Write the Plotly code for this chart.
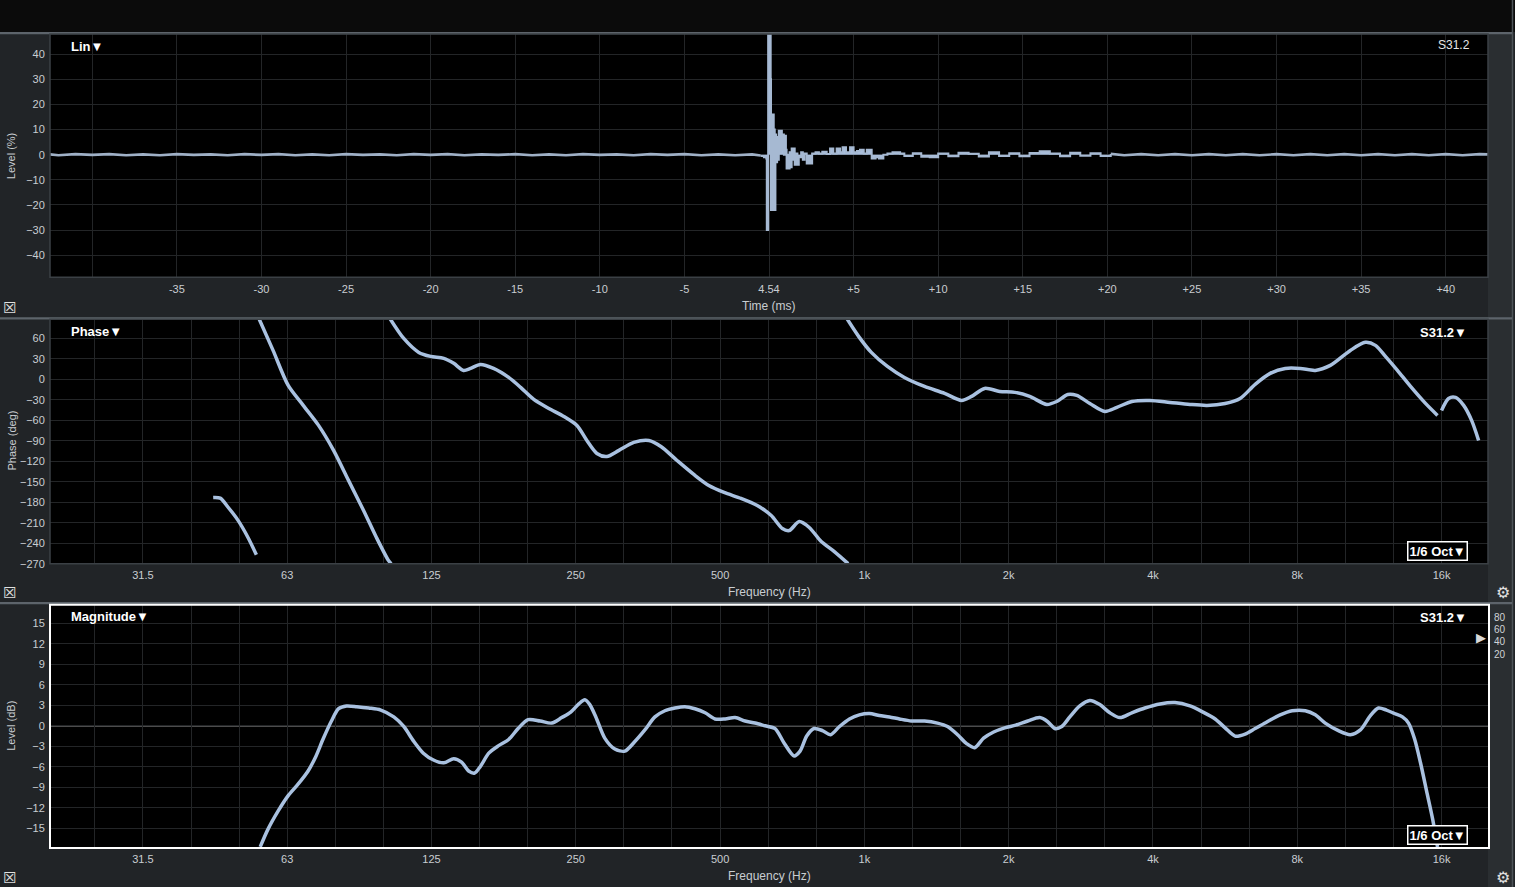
import plotly.graph_objects as go

W, H = 1515, 887
HV = 880.0  # effective vertical pixel scale observed in the renderer

def px(x):
    return x / W

def py(y):
    return 1 - y / HV

# ---------------- data ----------------
# impulse response (time offset in ms relative to 4.54 ms, level in %)
time_pre = [-42.5, -42, -41, -40, -39, -38, -37, -36, -35, -34, -33, -32, -31, -30, -29, -28, -27, -26, -25,
            -24, -23, -22, -21, -20, -19, -18, -17, -16, -15, -14, -13, -12, -11, -10, -9, -8, -7, -6, -5,
            -4, -3, -2, -1, -0.5]
level_pre = [0.1, -0.2, 0.2, -0.1, 0.2, -0.2, 0.1, -0.2, 0.2, -0.1, 0.1, -0.2, 0.2, -0.1, 0.2, -0.2, 0.1, -0.2,
             0.2, -0.1, 0.1, -0.2, 0.2, -0.1, 0.2, -0.2, 0.1, -0.1, 0.2, -0.2, 0.1, -0.2, 0.2, -0.1, 0.1, -0.2,
             0.2, -0.1, 0.2, -0.2, 0.1, -0.2, 0.1, -0.3]
time_imp = [-0.5, -0.3, -0.16, -0.13, -0.07, -0.05, 0.06, 0.10, 0.12, 0.16, 0.20, 0.24, 0.28, 0.32, 0.34, 0.38,
            0.42, 0.48, 0.52, 0.58, 0.64, 0.70, 0.76, 0.82, 0.88, 0.94, 1.00, 1.04, 1.10, 1.16, 1.22, 1.28,
            1.34, 1.40, 1.44, 1.52, 1.60, 1.68, 1.76, 1.90, 2.00, 2.10, 2.23, 2.33, 2.43, 2.55, 2.75, 2.95,
            3.15, 3.41, 3.61, 3.80, 4.00, 4.20, 4.35, 4.55, 4.79, 5.00, 5.20, 5.38, 5.60, 5.78, 6.07, 6.30,
            6.50, 6.76, 7.00, 7.30, 7.75, 8.0, 8.5, 9.0, 9.5, 10.0, 10.6, 11.2, 11.8, 12.4, 13.0, 13.6, 14.2,
            14.8, 15.4, 16.0, 16.6, 17.2, 17.8, 18.4, 19.0, 19.6, 20.2]
level_imp = [-0.5, -1.0, -1.5, -30, -30, 60, 60, 30, -22, 16, -22, 16, -22, 10, -22, 8,
             -3, 7, -2, 9.5, 1, 9.5, 2, 8, 0, 7.5, 2, -5.5, 0, -5.5, 1, -5,
             2.5, -2, 2.5, -4, 0.5, -4, -1, 1, -2, 0.5, -3.5, -1, -3.5, 0.5, 1, 0.5,
             1.2, 0.3, 2.5, 0.5, 2.5, 1, 3, 1, 3, 1, 1.5, 2, 0.5, 2, -1.5, -1,
             -1.5, 0, 0.5, 1, 0.5, -0.5, 0.6, -0.8, -1.0, 0.5, -0.6, 0.8, 0.4, -0.7, 1.0, -0.5, 0.6,
             -0.6, 0.7, 1.4, 0.5, -0.6, 0.8, -0.4, 0.6, -0.5, 0.3]
time_post = [20.2, 21, 22, 23, 24, 25, 26, 27, 28, 29, 30,
             31, 32, 33, 34, 35, 36, 37, 38, 39, 40, 41, 42, 42.5]
level_post = [0.3, -0.2, 0.2, -0.2, 0.2, -0.2, 0.2, -0.2, 0.2, -0.2, 0.2,
              -0.2, 0.2, -0.2, 0.2, -0.2, 0.2, -0.2, 0.2, -0.2, 0.2, -0.2, 0.2, 0.1]

# phase response (Hz, degrees, wrapped; None = break)
phase_freq = [43.8, 45.3, 47.0, 49.4, 51.8, 53.9, None,
              54.5, 58.4, 62.8, 67.5, 72.6, 78.1, 83.9, 90.2, 96.0, 101.6, 103.0, None,
              102.2, 109.4, 117.6, 124.5, 132.6, 139.1, 145.8, 150.8, 158.2, 168.4, 181.1, 191.8, 204.3,
              219.6, 236.1, 251.4, 263.7, 276.7, 290.2, 307.6, 330.4, 355.1, 376.3, 406.6, 440.7, 473.7,
              509.7, 553.0, 597.7, 639.3, 674.2, 696.9, 731.4, 767.4, 812.8, 865.7, 925.0, None,
              918.0, 976, 1034, 1117, 1212, 1335, 1470, 1595, 1674, 1782, 1915, 2059, 2213, 2402, 2520,
              2657, 2774, 2954, 3175, 3364, 3615, 3942, 4341, 4779, 5187, 5657, 6080, 6535, 7025, 7551,
              8117, 8724, 9378, 10324, 11097, 11647, 12220, 12944, 13785, 14813, 15693, None,
              16000, 16549, 17117, 17791, 18486, 19120]
phase_deg = [-173, -174, -187, -207, -232, -257, None,
             90, 42.5, -8.8, -38, -67, -104, -148, -192, -232, -265, -270, None,
             90, 60, 39.6, 33.7, 30.8, 23.5, 13.2, 16.1, 22, 16.1, 2.9, -11.7, -29.3,
             -42.5, -54.3, -67.5, -89.5, -108.5, -113, -104, -92.4, -89.5, -98.3, -118.8, -139.3, -155.5,
             -165.7, -174.5, -184.8, -199.5, -218.5, -221.5, -208.3, -217, -237.6, -252.3, -270, None,
             90, 61.6, 39.6, 19, 2.9, -10.3, -20.5, -30.8, -24.9, -13.2, -17.6, -19, -24.9, -36.7, -32.3,
             -22, -23.5, -35.2, -46.9, -41, -32.3, -30.8, -33.7, -36.7, -38.1, -35.2, -27.9, -7.3, 8.8, 16.1,
             16.1, 13.2, 20.5, 42.5, 54.3, 49.9, 33.7, 13.2, -10.3, -35.2, -52.8, None,
             -45.5, -27.9, -26.4, -38.1, -60.1, -89.5]

# magnitude response (Hz, dB)
mag_freq = [54.9, 57.0, 59.9, 62.8, 65.9, 69.1, 71.8, 74.3, 77.3, 80.0, 83.1, 87.3, 92.5, 98.0, 104.3, 109.4,
            114.6, 120.2, 126.2, 132.6, 139.1, 144.4, 149.4, 153.8, 158.2, 164.6, 172.6, 181.1, 189.5, 198.8,
            210.7, 222.7, 233.7, 244.0, 253.7, 261.1, 267.4, 275.3, 287.3, 301.6, 316.4, 332.0, 348.4, 365.6,
            383.5, 402.5, 422.2, 442.9, 465.3, 488.0, 512.3, 537.4, 563.9, 591.6, 620.9, 651.3, 679.9, 713.5,
            734.3, 758.1, 784.9, 817.6, 849.9, 887.4, 930.9, 976, 1024.5, 1074.7, 1128, 1183.5, 1253.5, 1335,
            1421, 1491, 1565, 1634, 1698, 1773, 1861, 1962, 2069, 2192, 2322, 2413, 2496, 2581, 2683, 2815,
            2954, 3099, 3252, 3413, 3615, 3848, 4138, 4447, 4779, 5088, 5393, 5657, 5935, 6228, 6535, 6925,
            7371, 7807, 8316, 8724, 9151, 9748, 10324, 10834, 11369, 11815, 12278, 12763, 13261, 13652,
            14052, 14461, 14888, 15327, 15693]
mag_db = [-17.7, -15.1, -12.4, -10.2, -8.5, -6.6, -4.4, -1.9, 0.7, 2.5, 2.9, 2.8, 2.6, 2.3, 1.3, -0.1,
          -2.2, -4.0, -5.0, -5.4, -4.8, -5.3, -6.6, -6.9, -5.9, -4.0, -2.9, -2.0, -0.4, 0.9,
          0.7, 0.4, 1.2, 2.0, 3.2, 3.8, 3.1, 1.3, -1.8, -3.4, -3.7, -2.3, -0.6, 1.3,
          2.2, 2.6, 2.8, 2.5, 1.9, 1.0, 1.0, 1.2, 0.7, 0.4, 0.0, -0.4, -2.5, -4.4,
          -3.7, -1.5, -0.4, -0.7, -1.3, -0.1, 1.0, 1.6, 1.8, 1.5, 1.3, 1.0, 0.7, 0.7,
          0.4, -0.1, -1.3, -2.6, -3.2, -1.8, -0.9, -0.3, 0.1, 0.7, 1.2, 0.6, -0.4, -0.1, 1.3, 2.9,
          3.7, 3.1, 1.9, 1.2, 1.9, 2.6, 3.2, 3.4, 2.9, 2.0, 1.0, -0.3, -1.5, -1.2, -0.4, 0.6,
          1.6, 2.2, 2.2, 1.6, 0.4, -0.7, -1.3, -0.6, 1.5, 2.6, 2.3, 1.8, 1.3, 0.4,
          -1.9, -5.4, -9.5, -13.6, -17.7]

time_ticks = [-40, -35, -30, -25, -20, -15, -10, -5, 0, 5, 10, 15, 20, 25, 30, 35, 40]
time_labels = ['', '-35', '-30', '-25', '-20', '-15', '-10', '-5', '4.54', '+5', '+10', '+15', '+20', '+25',
               '+30', '+35', '+40']
level_ticks = [-40, -30, -20, -10, 0, 10, 20, 30, 40]
phase_ticks = [-270, -240, -210, -180, -150, -120, -90, -60, -30, 0, 30, 60]
mag_ticks = [-18, -15, -12, -9, -6, -3, 0, 3, 6, 9, 12, 15]
oct_labels = {-15: '31.5', -12: '63', -9: '125', -6: '250', -3: '500', 0: '1k', 3: '2k', 6: '4k', 9: '8k',
              12: '16k'}

freq_tickvals = [1000 * 2 ** (k / 3) for k in range(-16, 13)]
freq_ticktext = [oct_labels.get(k, '') for k in range(-16, 13)]

# ---------------- figure ----------------
TRACE = '#a9c1e0'
GRID = '#232527'
TICKC = '#c9cdd1'
FONT = 'Liberation Sans, Arial, sans-serif'

fig = go.Figure()
fig.add_trace(go.Scatter(x=time_pre, y=level_pre, mode='lines', line=dict(color='#9fb0c6', width=2.6),
                         xaxis='x', yaxis='y', hoverinfo='skip'))
fig.add_trace(go.Scatter(x=time_post, y=level_post, mode='lines', line=dict(color='#9fb0c6', width=2.6),
                         xaxis='x', yaxis='y', hoverinfo='skip'))
fig.add_trace(go.Scatter(x=time_imp, y=level_imp, mode='lines',
                         line=dict(color='#a6b9d2', width=2.0, shape='hv'), fill='tozeroy',
                         fillcolor='#a9bedb', xaxis='x', yaxis='y', hoverinfo='skip'))
fig.add_trace(go.Scatter(x=phase_freq, y=phase_deg, mode='lines',
                         line=dict(color=TRACE, width=3.5, shape='spline', smoothing=0.8),
                         connectgaps=False, xaxis='x2', yaxis='y2'))
fig.add_trace(go.Scatter(x=mag_freq, y=mag_db, mode='lines',
                         line=dict(color=TRACE, width=3.5, shape='spline', smoothing=0.8),
                         xaxis='x3', yaxis='y3'))

xdom = [px(50), px(1488)]
common_x = dict(showgrid=True, gridcolor=GRID, gridwidth=1, zeroline=False, showline=False,
                tickfont=dict(family=FONT, size=11, color=TICKC), ticks='outside', ticklen=1,
                tickcolor='rgba(0,0,0,0)', fixedrange=True)
common_y = dict(showgrid=True, gridcolor=GRID, gridwidth=1, zeroline=False, showline=False,
                tickfont=dict(family=FONT, size=11, color=TICKC), ticks='outside', ticklen=2,
                tickcolor='rgba(0,0,0,0)', fixedrange=True)

fig.update_layout(
    width=W, height=H, autosize=False, margin=dict(l=0, r=0, t=0, b=0),
    paper_bgcolor='#212427', plot_bgcolor='#000000', showlegend=False,
    font=dict(family=FONT, color=TICKC),
    xaxis=dict(domain=xdom, anchor='y', range=[-42.5, 42.5], tickmode='array', tickvals=time_ticks,
               ticktext=time_labels, **common_x),
    yaxis=dict(domain=[py(277), py(34)], anchor='x', range=[-48.8, 48], tickmode='array',
               tickvals=level_ticks, **common_y),
    xaxis2=dict(domain=xdom, anchor='y2', type='log', range=[1.30103, 4.30103], tickmode='array',
                tickvals=freq_tickvals, ticktext=freq_ticktext, **common_x),
    yaxis2=dict(domain=[py(563), py(319)], anchor='x2', range=[-270, 88], tickmode='array',
                tickvals=phase_ticks, **common_y),
    xaxis3=dict(domain=xdom, anchor='y3', type='log', range=[1.30103, 4.30103], tickmode='array',
                tickvals=freq_tickvals, ticktext=freq_ticktext, **common_x),
    yaxis3=dict(domain=[py(847), py(604)], anchor='x3', range=[-17.85, 17.7], tickmode='array',
                tickvals=mag_ticks, **common_y),
)

shapes = []
# top dark strip
shapes.append(dict(type='rect', xref='paper', yref='paper', x0=0, x1=1, y0=py(32), y1=1,
                   fillcolor='#0b0b0b', line=dict(width=0), layer='below'))
# right strip
shapes.append(dict(type='rect', xref='paper', yref='paper', x0=px(1488), x1=px(1512), y0=py(887), y1=py(34),
                   fillcolor='#2a2e31', line=dict(width=0), layer='below'))
shapes.append(dict(type='line', xref='paper', yref='paper', x0=px(1512.5), x1=px(1512.5), y0=py(887), y1=1,
                   line=dict(color='#4d5358', width=1.5)))
# separators
for ysep in (33, 318, 602.5):
    shapes.append(dict(type='line', xref='paper', yref='paper', x0=0, x1=px(1512), y0=py(ysep), y1=py(ysep),
                       line=dict(color='#5d646b', width=2.2)))
# plot frames
shapes.append(dict(type='rect', xref='paper', yref='paper', x0=px(50), x1=px(1488), y0=py(277), y1=py(34),
                   line=dict(color='#3b4045', width=1.5)))
shapes.append(dict(type='rect', xref='paper', yref='paper', x0=px(50), x1=px(1488), y0=py(563), y1=py(319),
                   line=dict(color='#3b4045', width=1.5)))
shapes.append(dict(type='rect', xref='paper', yref='paper', x0=px(50), x1=px(1489), y0=py(847), y1=py(604),
                   line=dict(color='#ffffff', width=2)))
# 0 dB reference line
shapes.append(dict(type='line', xref='x3 domain', yref='y3', x0=0, x1=1, y0=0, y1=0,
                   line=dict(color='#ffffff', width=1), layer='below'))
fig.update_layout(shapes=shapes)

ann = []

def add_text(x, y, text, size=11, color=TICKC, bold=False, xanchor='center', angle=0, **kw):
    t = '<b>%s</b>' % text if bold else text
    ann.append(dict(x=px(x), y=py(y), xref='paper', yref='paper', text=t, showarrow=False,
                    font=dict(family=FONT, size=size, color=color), xanchor=xanchor, yanchor='middle',
                    textangle=angle, **kw))

add_text(69, 46, 'Lin▼', size=13, color='#ffffff', bold=True, xanchor='left')
add_text(1472, 45, 'S31.2', size=12, color='#e6e6e6', xanchor='right')
add_text(69, 331, 'Phase▼', size=13, color='#ffffff', bold=True, xanchor='left')
add_text(1469, 332, 'S31.2▼', size=13, color='#ffffff', bold=True, xanchor='right')
add_text(69, 616, 'Magnitude▼', size=13, color='#ffffff', bold=True, xanchor='left')
add_text(1469, 617, 'S31.2▼', size=13, color='#ffffff', bold=True, xanchor='right')

add_text(769, 306, 'Time (ms)', size=12)
add_text(769, 591, 'Frequency (Hz)', size=12)
add_text(769, 875, 'Frequency (Hz)', size=12)
add_text(11, 156, 'Level (%)', size=11, angle=-90)
add_text(11, 440, 'Phase (deg)', size=11, angle=-90)
add_text(11, 725, 'Level (dB)', size=11, angle=-90)

for yb in (550, 834):
    ann.append(dict(x=px(1437), y=py(yb), xref='paper', yref='paper', text='<b>1/6 Oct▼</b>',
                    showarrow=False, font=dict(family=FONT, size=13, color='#ffffff'),
                    bordercolor='#ffffff', borderwidth=1.5, borderpad=1, bgcolor='#000000',
                    xanchor='center', yanchor='middle'))

for yv, lab in ((617, '80'), (629, '60'), (641, '40'), (654, '20')):
    add_text(1500, yv, lab, size=10, color='#d0d3d6')
add_text(1481, 637, '▶', size=13, color='#d8d8d8')

for yc in (307, 592, 877):
    add_text(9, yc, '☒', size=15, color='#e0e0e0')
for yg in (592, 877):
    add_text(1503, yg, '⚙', size=16, color='#e0e0e0')

fig.update_layout(annotations=ann)

fig.write_html('out.html', config={'responsive': False, 'displayModeBar': False},
               post_script="document.body.style.margin='0px';document.body.style.overflow='hidden';"
                           "document.body.style.background='#212427';"
                           "document.documentElement.style.overflow='hidden';")
